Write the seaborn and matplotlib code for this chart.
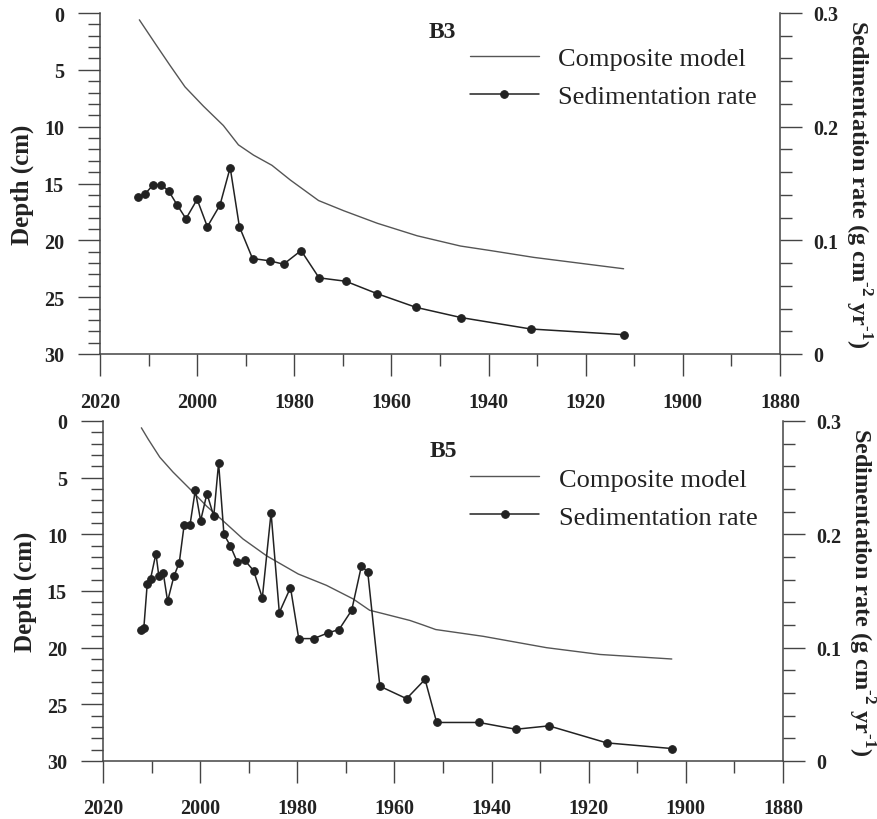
import matplotlib
matplotlib.use('Agg')
import matplotlib.pyplot as plt
import pandas as pd
import seaborn as sns
from matplotlib.ticker import MultipleLocator, FuncFormatter

# B3 core
b3_model_year = [2011.9, 2008.3, 2005.6, 2002.5, 1998.7, 1994.6, 1991.5, 1988.4, 1984.6,
                 1980.8, 1975.0, 1969.8, 1962.9, 1954.7, 1945.8, 1939.6, 1930.7, 1912.2]
b3_model_depth = [0.6, 2.9, 4.6, 6.5, 8.2, 9.9, 11.6, 12.5, 13.4,
                  14.7, 16.5, 17.4, 18.5, 19.6, 20.5, 20.9, 21.5, 22.5]
b3_sed_year = [2012.1, 2010.7, 2009.0, 2007.4, 2005.8, 2004.1, 2002.3, 2000.0, 1997.9, 1995.3,
               1993.2, 1991.3, 1988.6, 1985.1, 1982.2, 1978.6, 1974.9, 1969.4, 1962.9, 1954.9,
               1945.6, 1931.3, 1912.2]
b3_sed_rate = [0.138, 0.141, 0.149, 0.149, 0.143, 0.131, 0.119, 0.136, 0.112, 0.131,
               0.164, 0.112, 0.084, 0.082, 0.079, 0.091, 0.067, 0.064, 0.053, 0.041,
               0.032, 0.022, 0.017]

# B5 core
b5_model_year = [2012.1, 2010.7, 2008.3, 2005.6, 2002.1, 1998.7, 1995.3, 1991.2, 1986.3, 1979.8,
                 1974.0, 1968.5, 1965.1, 1962.3, 1956.8, 1954.1, 1951.5, 1941.7, 1928.7, 1917.7,
                 1902.9]
b5_model_depth = [0.6, 1.6, 3.2, 4.5, 6.0, 7.5, 8.8, 10.4, 11.9, 13.5,
                  14.5, 15.7, 16.7, 17.0, 17.6, 18.0, 18.4, 19.0, 20.0, 20.6,
                  21.0]
b5_sed_year = [2012.1, 2011.6, 2010.9, 2010.2, 2009.1, 2008.5, 2007.6, 2006.7, 2005.4, 2004.3,
               2003.3, 2002.1, 2001.0, 1999.9, 1998.6, 1997.2, 1996.2, 1995.1, 1993.8, 1992.4,
               1990.8, 1989.0, 1987.2, 1985.4, 1983.7, 1981.4, 1979.7, 1976.6, 1973.7, 1971.4,
               1968.8, 1966.8, 1965.5, 1963.0, 1957.5, 1953.7, 1951.3, 1942.6, 1935.0, 1928.2,
               1916.3, 1902.9]
b5_sed_rate = [0.116, 0.117, 0.156, 0.161, 0.183, 0.163, 0.166, 0.141, 0.163, 0.175,
               0.208, 0.208, 0.239, 0.212, 0.236, 0.216, 0.263, 0.200, 0.190, 0.176,
               0.177, 0.168, 0.144, 0.219, 0.131, 0.153, 0.108, 0.108, 0.113, 0.116,
               0.133, 0.172, 0.167, 0.066, 0.055, 0.072, 0.034, 0.034, 0.028, 0.031,
               0.016, 0.011]

sns.set_style('ticks')
plt.rcParams['font.family'] = ['Liberation Serif', 'DejaVu Serif']
plt.rcParams['mathtext.fontset'] = 'custom'
plt.rcParams['mathtext.rm'] = 'Liberation Serif:bold'
plt.rcParams['mathtext.bf'] = 'Liberation Serif:bold'

INK = '#222222'
AXC = '#444444'


def draw_panel(fig, rect, name, m_year, m_depth, s_year, s_rate, name_pos, leg_pos):
    ax = fig.add_axes(rect)
    ax2 = ax.twinx()

    df_m = pd.DataFrame({'year': m_year, 'depth': m_depth})
    df_s = pd.DataFrame({'year': s_year, 'rate': s_rate})

    sns.lineplot(data=df_m, x='year', y='depth', ax=ax, sort=False, estimator=None,
                 color='#555555', linewidth=1.0, label='Composite model', legend=False)
    sns.lineplot(data=df_s, x='year', y='rate', ax=ax2, sort=False, estimator=None,
                 color=INK, linewidth=1.1, marker='o', markersize=5.5,
                 markeredgecolor=INK, markerfacecolor=INK,
                 label='Sedimentation rate', legend=False)

    ax.set_xlim(2020, 1880)
    ax.set_ylim(30, 0)
    ax2.set_ylim(0, 0.3)

    ax.xaxis.set_major_locator(MultipleLocator(20))
    ax.xaxis.set_minor_locator(MultipleLocator(10))
    ax.yaxis.set_major_locator(MultipleLocator(5))
    ax.yaxis.set_minor_locator(MultipleLocator(1))
    ax2.yaxis.set_major_locator(MultipleLocator(0.1))
    ax2.yaxis.set_minor_locator(MultipleLocator(0.02))
    ax2.yaxis.set_major_formatter(FuncFormatter(lambda v, p: f'{v:g}'))

    for a in (ax, ax2):
        a.tick_params(which='major', direction='out', length=16, width=1.0,
                      color=AXC, labelsize=14.5, labelcolor=INK)
        a.tick_params(which='minor', direction='out', length=8.5, width=1.0, color=AXC)
        for lab in a.get_xticklabels() + a.get_yticklabels():
            lab.set_fontweight('bold')
    ax.tick_params(axis='x', which='major', pad=11)
    ax.tick_params(axis='y', which='major', pad=10)
    ax2.tick_params(axis='y', which='major', pad=8)

    ax.spines['top'].set_visible(False)
    ax.spines['right'].set_visible(False)
    ax2.spines['top'].set_visible(False)
    ax2.spines['left'].set_visible(False)
    ax2.spines['bottom'].set_visible(False)
    for sp in ('left', 'bottom'):
        ax.spines[sp].set_color(AXC)
        ax.spines[sp].set_linewidth(1.1)
    ax2.spines['right'].set_color(AXC)
    ax2.spines['right'].set_linewidth(1.1)

    ax.set_xlabel('')
    ax.set_ylabel('Depth (cm)', fontsize=18, fontweight='bold', color=INK, labelpad=7)
    ax2.set_ylabel(r'Sedimentation rate (g cm$^{\text{-2}}$ yr$^{\text{-1}}$)',
                   fontsize=17.5, fontweight='bold', color=INK, rotation=270,
                   va='bottom', labelpad=3)

    ax.text(name_pos[0], name_pos[1], name, transform=ax.transAxes, fontsize=17,
            fontweight='bold', color=INK, ha='center', va='center')

    h1, l1 = ax.get_legend_handles_labels()
    h2, l2 = ax2.get_legend_handles_labels()
    ax2.legend(h1 + h2, l1 + l2, loc='upper left', bbox_to_anchor=leg_pos,
               frameon=False, fontsize=19, borderpad=0, borderaxespad=0,
               handlelength=2.6, handletextpad=0.75, labelspacing=0.55,
               labelcolor=INK)
    return ax, ax2


fig = plt.figure(figsize=(8.77, 8.2), dpi=100)

draw_panel(fig, [100 / 877, (820 - 355) / 820, 680 / 877, 341 / 820], 'B3',
           b3_model_year, b3_model_depth, b3_sed_year, b3_sed_rate,
           name_pos=(0.504, 0.947), leg_pos=(0.544, 0.902))
draw_panel(fig, [103 / 877, (820 - 762) / 820, 680 / 877, 340 / 820], 'B5',
           b5_model_year, b5_model_depth, b5_sed_year, b5_sed_rate,
           name_pos=(0.5, 0.912), leg_pos=(0.54, 0.864))

fig.savefig('out.png', dpi=100)
